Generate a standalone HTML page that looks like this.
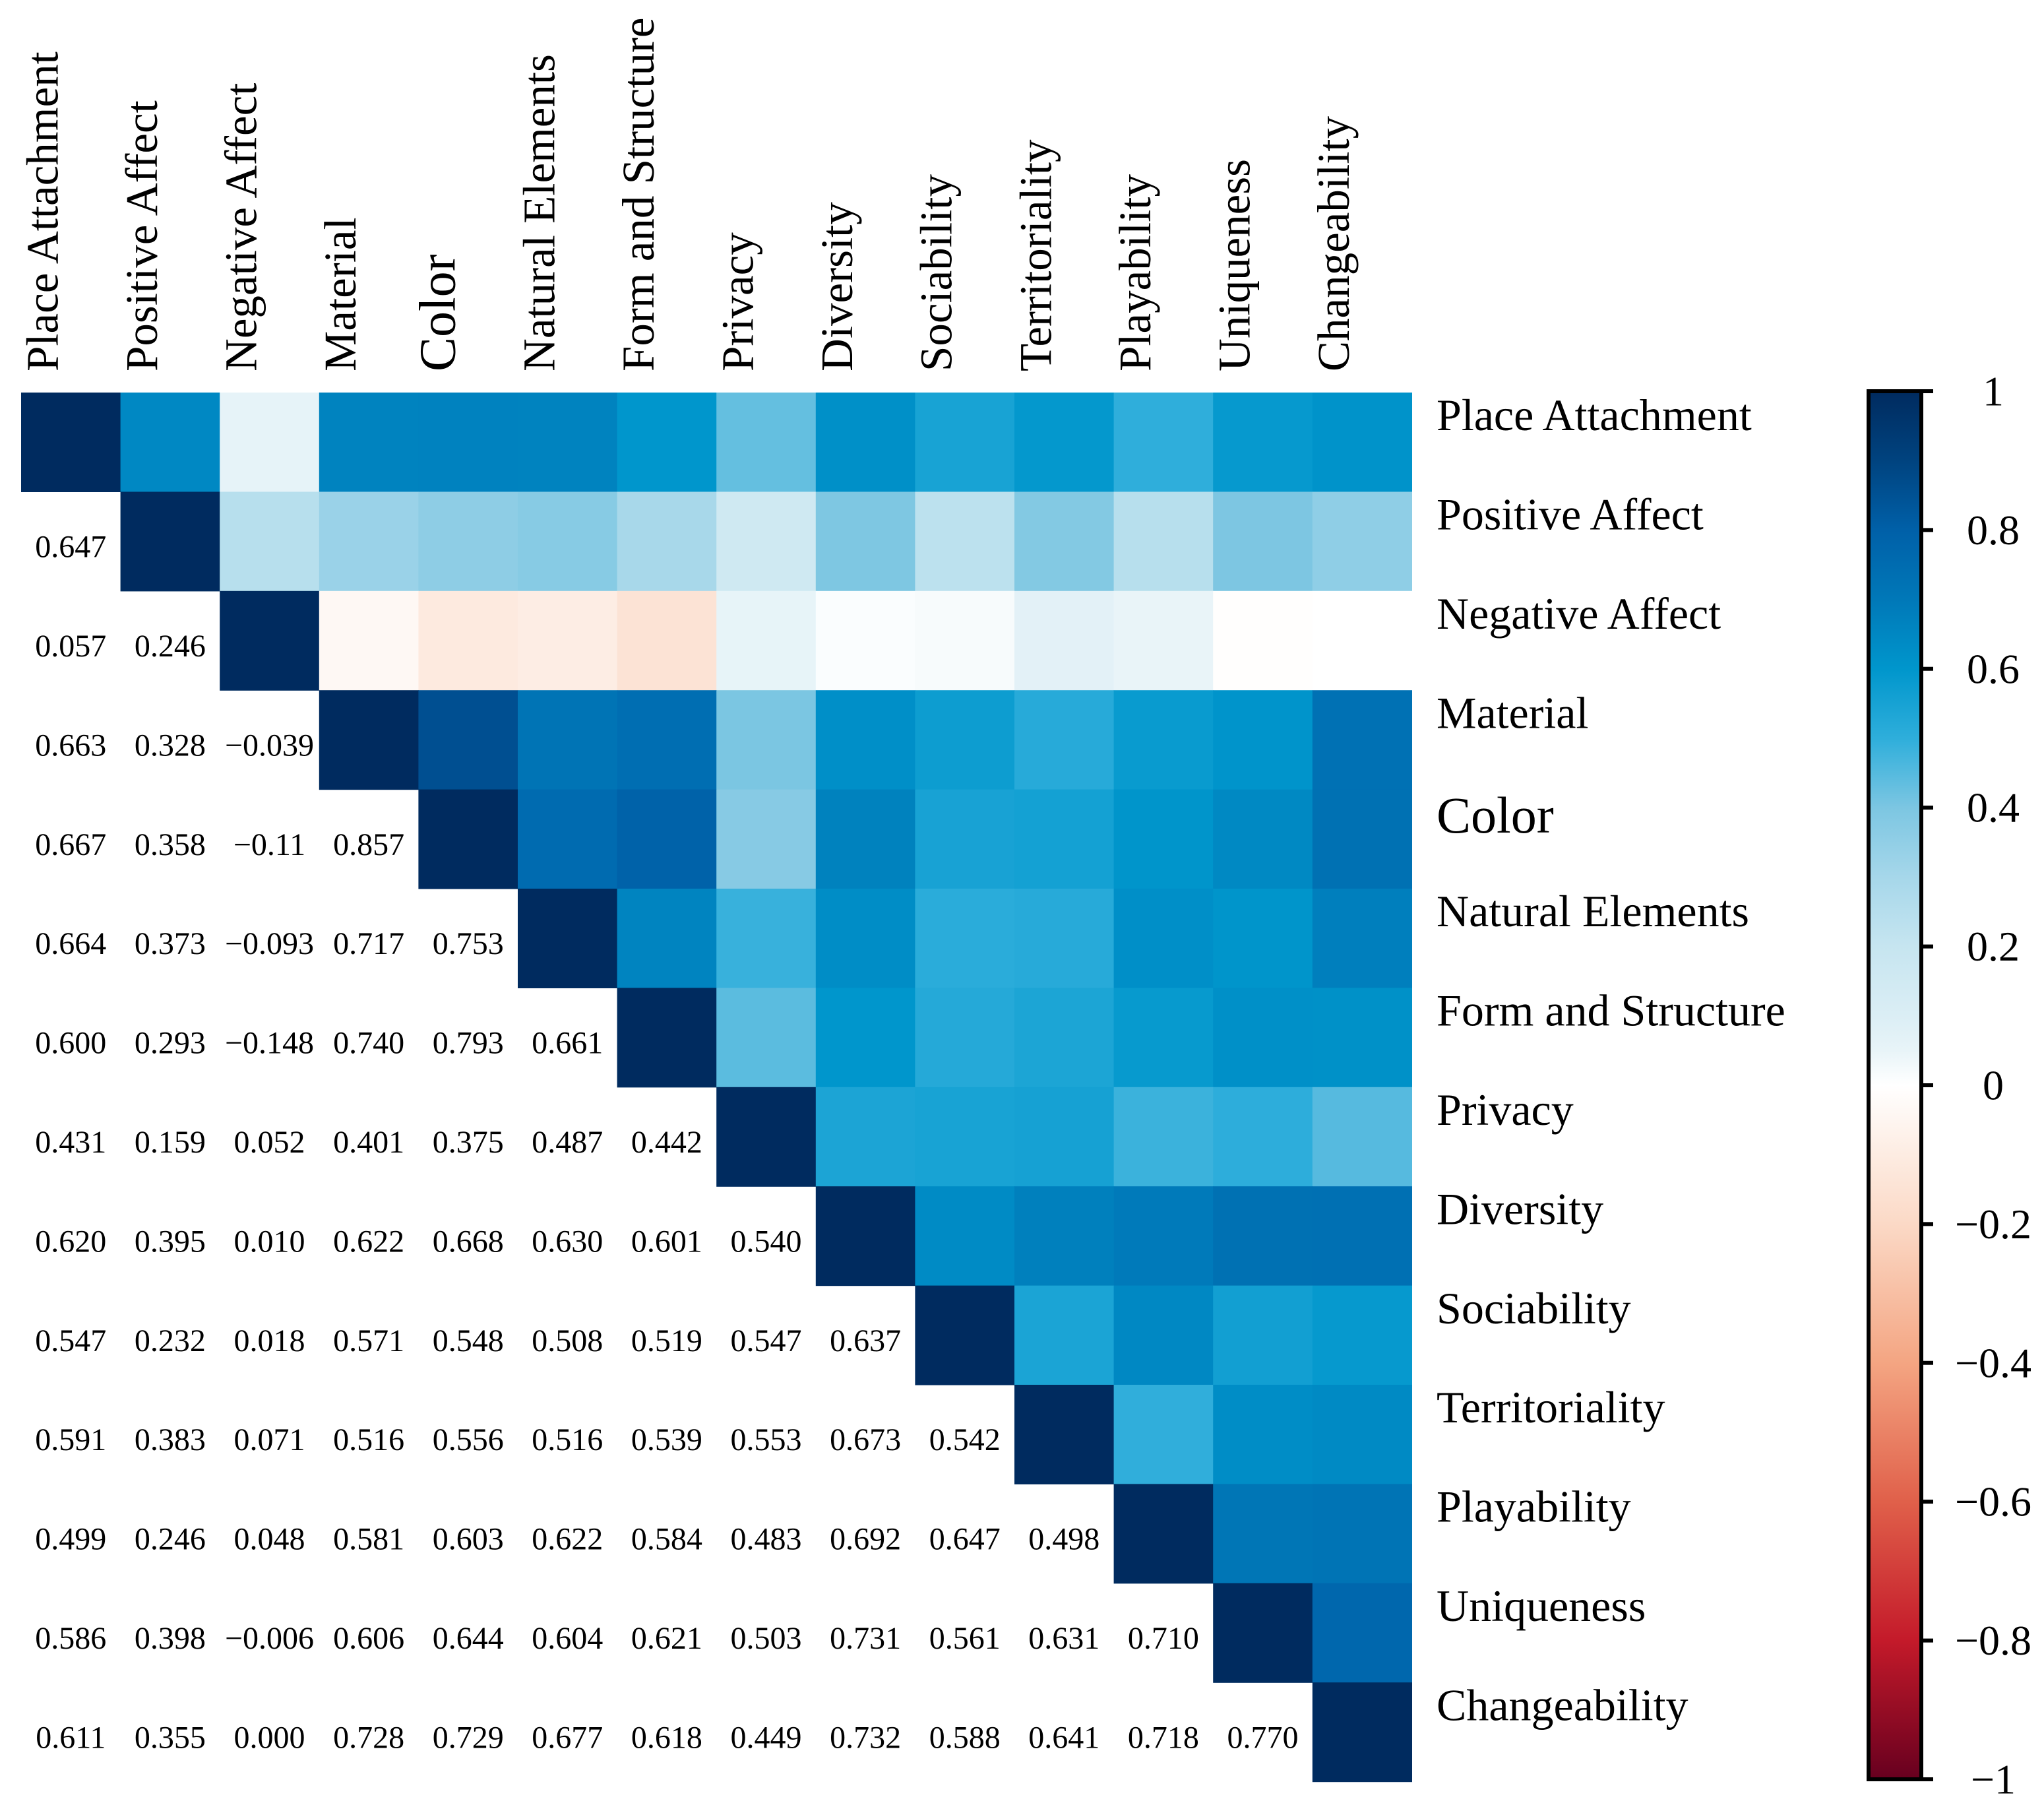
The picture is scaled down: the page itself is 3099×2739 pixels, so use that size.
<!DOCTYPE html>
<html><head><meta charset="utf-8"><style>
html,body{margin:0;padding:0;background:#fff;}
svg{display:block;font-family:"Liberation Serif",serif;}
</style></head><body>
<svg id="chart" width="3099" height="2739" viewBox="0 0 3099 2739" xmlns="http://www.w3.org/2000/svg">
<defs><linearGradient id="cbgrad" x1="0" y1="1" x2="0" y2="0"></linearGradient></defs>
<g id="cells"></g>
<g id="vals"></g>
<g id="collabels"></g>
<g id="rowlabels"></g>
<g id="cbar"></g>
</svg>
<script>
const categories = ["Place Attachment","Positive Affect","Negative Affect","Material","Color","Natural Elements","Form and Structure","Privacy","Diversity","Sociability","Territoriality","Playability","Uniqueness","Changeability"];
const lowerValues = [
 [],
 [0.647],
 [0.057,0.246],
 [0.663,0.328,-0.039],
 [0.667,0.358,-0.11,0.857],
 [0.664,0.373,-0.093,0.717,0.753],
 [0.600,0.293,-0.148,0.740,0.793,0.661],
 [0.431,0.159,0.052,0.401,0.375,0.487,0.442],
 [0.620,0.395,0.010,0.622,0.668,0.630,0.601,0.540],
 [0.547,0.232,0.018,0.571,0.548,0.508,0.519,0.547,0.637],
 [0.591,0.383,0.071,0.516,0.556,0.516,0.539,0.553,0.673,0.542],
 [0.499,0.246,0.048,0.581,0.603,0.622,0.584,0.483,0.692,0.647,0.498],
 [0.586,0.398,-0.006,0.606,0.644,0.604,0.621,0.503,0.731,0.561,0.631,0.710],
 [0.611,0.355,0.000,0.728,0.729,0.677,0.618,0.449,0.732,0.588,0.641,0.718,0.770]
];
const valueLabels = [
 [],["0.647"],["0.057","0.246"],["0.663","0.328","−0.039"],["0.667","0.358","−0.11","0.857"],
 ["0.664","0.373","−0.093","0.717","0.753"],["0.600","0.293","−0.148","0.740","0.793","0.661"],
 ["0.431","0.159","0.052","0.401","0.375","0.487","0.442"],
 ["0.620","0.395","0.010","0.622","0.668","0.630","0.601","0.540"],
 ["0.547","0.232","0.018","0.571","0.548","0.508","0.519","0.547","0.637"],
 ["0.591","0.383","0.071","0.516","0.556","0.516","0.539","0.553","0.673","0.542"],
 ["0.499","0.246","0.048","0.581","0.603","0.622","0.584","0.483","0.692","0.647","0.498"],
 ["0.586","0.398","−0.006","0.606","0.644","0.604","0.621","0.503","0.731","0.561","0.631","0.710"],
 ["0.611","0.355","0.000","0.728","0.729","0.677","0.618","0.449","0.732","0.588","0.641","0.718","0.770"]
];
const colorbarTicks = [1,0.8,0.6,0.4,0.2,0,-0.2,-0.4,-0.6,-0.8,-1];
const colorbarTickLabels = ["1","0.8","0.6","0.4","0.2","0","−0.2","−0.4","−0.6","−0.8","−1"];
const cmapStops = [[-1,"#67001f"],[-0.8,"#c41a2a"],[-0.6,"#e0604a"],[-0.4,"#f4a582"],[-0.2,"#fbd9c6"],[-0.1,"#fdece2"],[0,"#ffffff"],[0.05,"#e8f4f8"],[0.1,"#dbeef5"],[0.2,"#c6e5f0"],[0.3,"#a6d7ea"],[0.4,"#7cc6e2"],[0.5,"#2eaedb"],[0.6,"#0096cc"],[0.7,"#0078b8"],[0.8,"#0060a8"],[0.9,"#00437f"],[1,"#002b5f"]];

const NS="http://www.w3.org/2000/svg";
const X0=32,Y0=595,CW=150.6,CH=150.4,N=categories.length;
const xPos=i=>X0+i*CW, yPos=i=>Y0+i*CH;
const CB={x:2833,w:80,top:593,bot:2697};
const cbY=v=>CB.top+(1-v)/2*(CB.bot-CB.top);
function hex(c){return [1,3,5].map(k=>parseInt(c.substr(k,2),16));}
function color(v){
  for(let k=0;k<cmapStops.length-1;k++){
    const [a,ca]=cmapStops[k],[b,cb]=cmapStops[k+1];
    if(v>=a&&v<=b){const t=(v-a)/(b-a),A=hex(ca),B=hex(cb);
      return "rgb("+A.map((x,i)=>Math.round(x+(B[i]-x)*t)).join(",")+")";}
  }
  return v>0?"#002b5f":"#67001f";
}
function val(r,c){if(r===c)return 1;return r>c?lowerValues[r][c]:lowerValues[c][r];}
function mk(tag,attrs,parent){const e=document.createElementNS(NS,tag);for(const k in attrs)e.setAttribute(k,attrs[k]);parent.appendChild(e);return e;}

const gc=document.getElementById("cells"),gv=document.getElementById("vals");
for(let r=0;r<N;r++){for(let c=r;c<N;c++){
  const e=mk("rect",{x:xPos(c),y:yPos(r),width:CW+0.6,height:CH+0.6,fill:color(val(r,c))},gc);
  
  
}}
for(let r=1;r<N;r++){for(let c=0;c<r;c++){
  const t=mk("text",{x:xPos(c)+CW/2,y:yPos(r)+CH/2+24,"text-anchor":"middle","font-size":48,fill:"#000"},gv);
  t.textContent=valueLabels[r][c];
  
  
}}
const gcl=document.getElementById("collabels"),grl=document.getElementById("rowlabels");
categories.forEach((name,i)=>{
  const bx=xPos(i)+CW/2-20,by=563;
  const t=mk("text",{x:bx,y:by,transform:"rotate(-90 "+bx+" "+by+")","font-size":name==="Color"?78:69,fill:"#000"},gcl);
  t.textContent=name;
  
  
  const rt=mk("text",{x:2178,y:yPos(i)+CH/2-18+(name==="Color"?8:0),"font-size":name==="Color"?78:68,fill:"#000"},grl);
  rt.textContent=name;
  
  
});
const grad=document.getElementById("cbgrad");
cmapStops.forEach(([v,c])=>{mk("stop",{offset:((v+1)/2*100)+"%","stop-color":c},grad);});
const gb=document.getElementById("cbar");
const bar=mk("rect",{x:CB.x,y:CB.top,width:CB.w,height:CB.bot-CB.top,fill:"url(#cbgrad)",stroke:"#000","stroke-width":6},gb);


colorbarTicks.forEach((v,i)=>{
  const l=mk("line",{x1:CB.x+CB.w,x2:CB.x+CB.w+18,y1:cbY(v),y2:cbY(v),stroke:"#000","stroke-width":6},gb);
  
  
  const t=mk("text",{x:3022,y:cbY(v),"text-anchor":"middle","dominant-baseline":"central","font-size":64,fill:"#000"},gb);
  t.textContent=colorbarTickLabels[i];
  
  
});
</script>
</body></html>
